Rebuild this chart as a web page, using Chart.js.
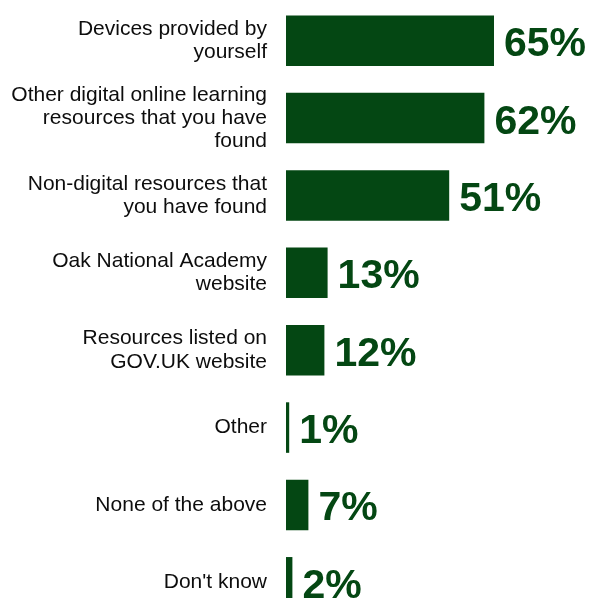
<!DOCTYPE html>
<html>
<head>
<meta charset="utf-8">
<script src="https://cdn.jsdelivr.net/npm/chart.js@4/dist/chart.umd.min.js"></script>
<style>
  html, body { margin: 0; padding: 0; background: #fff; overflow: hidden; }
  #wrap { position: relative; width: 590px; height: 621px; }
</style>
</head>
<body>
<div id="wrap"><canvas id="resourcesChart"></canvas></div>
<script>
// ---------- data ---------- //
const categories = [
  ["Devices provided by", "yourself"],
  ["Other digital online learning", "resources that you have", "found"],
  ["Non-digital resources that", "you have found"],
  ["Oak National Academy", "website"],
  ["Resources listed on", "GOV.UK website"],
  "Other",
  "None of the above",
  "Don't know"
];
const percentages = [65, 62, 51, 13, 12, 1, 7, 2];

const green = "#044713";

// draws the big "65%" labels next to each bar
const valueLabels = {
  id: "valueLabels",
  afterDatasetsDraw(chart) {
    const ctx = chart.ctx;
    const meta = chart.getDatasetMeta(0);
    ctx.save();
    ctx.font = "bold 41px 'Liberation Sans', Arial, sans-serif";
    ctx.fillStyle = green;
    ctx.textAlign = "left";
    ctx.textBaseline = "alphabetic";
    meta.data.forEach((bar, i) => {
      const txt = percentages[i] + "%";
      const w = ctx.measureText(txt).width;
      let x = bar.x + 10;
      if (x + w > chart.width - 2) x = chart.width - 2 - w; // keep inside the canvas
      ctx.fillText(txt, x, bar.y + 15.5);
    });
    ctx.restore();
  }
};

const ctx = document.getElementById("resourcesChart").getContext("2d");
const resourcesChart = new Chart(ctx, {
  type: "bar",
  data: {
    labels: categories,
    datasets: [
      {
        label: "Resources used",
        data: percentages,
        backgroundColor: green,
        borderWidth: 0,
        categoryPercentage: 1,
        barPercentage: 0.653
      }
    ]
  },
  options: {
    indexAxis: "y",
    responsive: true,
    maintainAspectRatio: false,
    animation: false,
    layout: { padding: { top: 2, left: 0, right: 0, bottom: 0 } },
    plugins: {
      legend: { display: false },
      tooltip: { enabled: false }
    },
    scales: {
      x: {
        display: false,
        min: 0,
        max: 95
      },
      y: {
        grid: { display: false, drawTicks: false },
        border: { display: false },
        afterFit(scale) {
          scale.width = 286;
          // labels sit inside their bands, no extra room needed above/below
          scale.paddingTop = 0;
          scale.paddingBottom = 0;
        },
        ticks: {
          padding: 19,
          color: "#0d0d0d",
          font: { family: "'Liberation Sans', Arial, sans-serif", size: 21, lineHeight: 1.1 }
        }
      }
    }
  },
  plugins: [valueLabels]
});
</script>
</body>
</html>
